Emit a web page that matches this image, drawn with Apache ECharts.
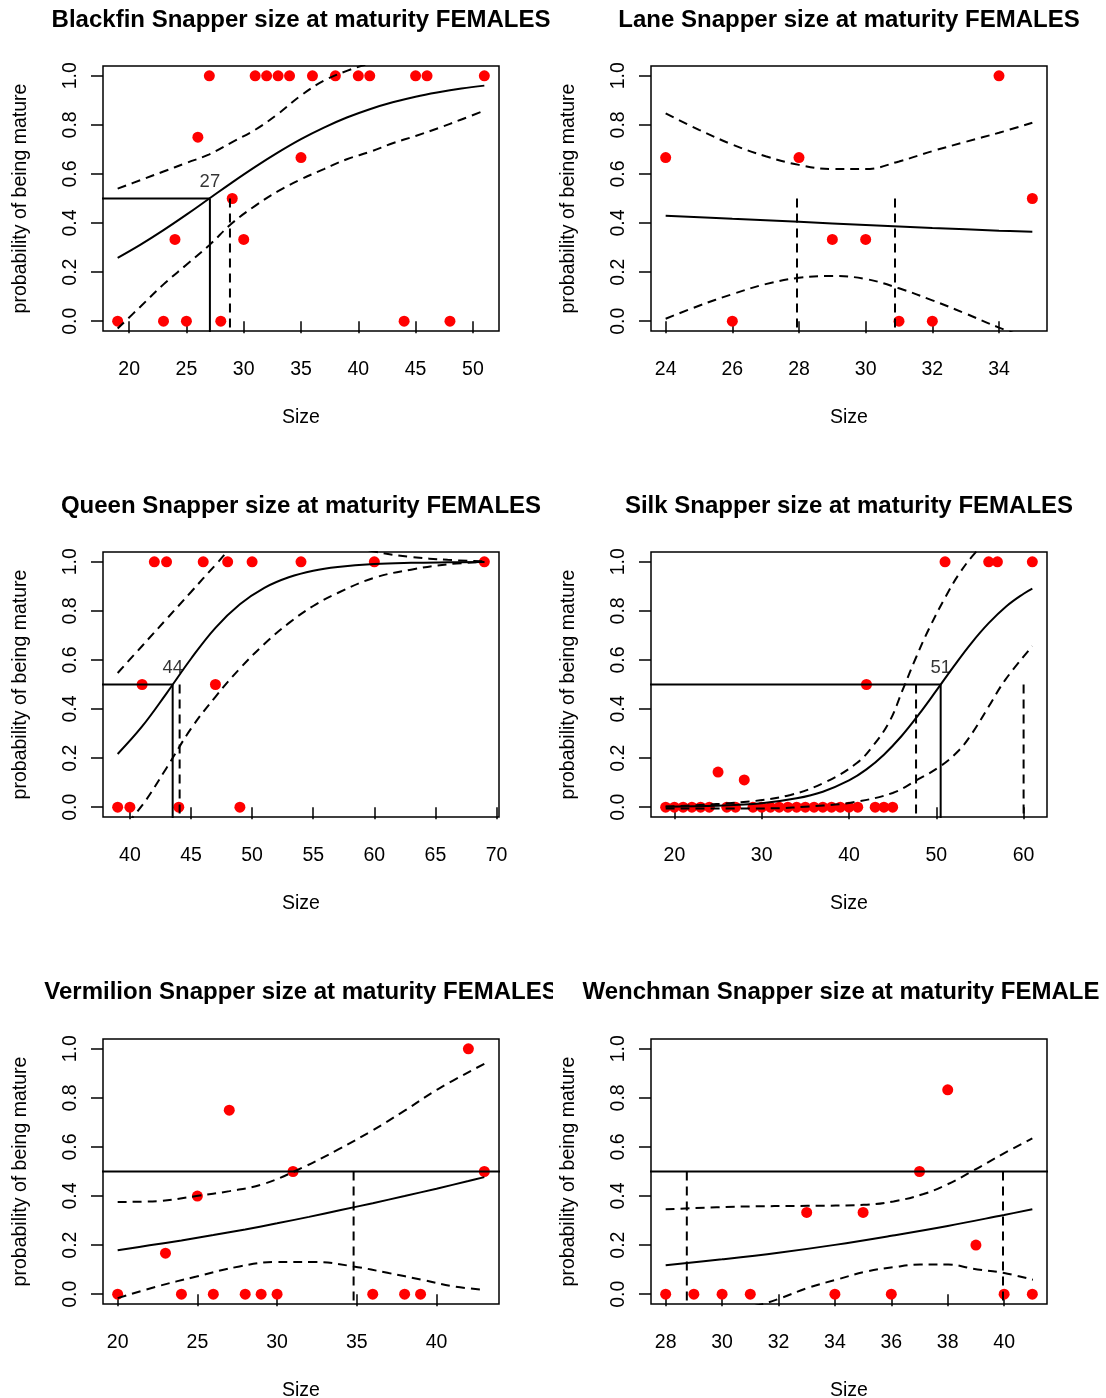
<!DOCTYPE html>
<html>
<head>
<meta charset="utf-8">
<script src="https://cdn.jsdelivr.net/npm/echarts@6/dist/echarts.min.js"></script>
<style>
  html, body { margin: 0; padding: 0; background: #fff; width: 1106px; height: 1398px; overflow: hidden; }
  .panel { position: absolute; overflow: hidden; }
</style>
</head>
<body>
<script>
// ---- Blackfin ----
const blackfinSize   = [19, 23, 24, 25, 26, 27, 28, 29, 30, 31, 32, 33, 34, 35, 36, 38, 40, 41, 44, 45, 46, 48, 51];
const blackfinMature = [0, 0, 0.333, 0, 0.75, 1, 0, 0.5, 0.333, 1, 1, 1, 1, 0.667, 1, 1, 1, 1, 0, 1, 1, 0, 1];
const blackfinFit   = [[19,0.258],[21,0.312],[23,0.371],[25,0.434],[27,0.5],[29,0.566],[31,0.629],[33,0.688],[35,0.742],[37,0.789],[39,0.83],[41,0.864],[43,0.892],[45,0.915],[47,0.933],[49,0.948],[51,0.96]];
const blackfinUpper = [[19,0.54],[21,0.575],[23,0.61],[25,0.645],[27,0.68],[29,0.73],[31,0.78],[33,0.845],[35,0.92],[37,0.98],[39,1.02],[41,1.05],[43,1.07],[45,1.08],[47,1.08],[49,1.075],[51,1.065]];
const blackfinLower = [[19,-0.03],[21,0.06],[23,0.15],[25,0.23],[27,0.31],[29,0.40],[31,0.47],[33,0.53],[35,0.578],[37,0.62],[39,0.66],[41,0.69],[43,0.725],[45,0.755],[47,0.787],[49,0.822],[51,0.858]];
const blackfinL50 = 27.05;
const blackfinCI  = [28.8];
const blackfinTicks = [20, 25, 30, 35, 40, 45, 50];

// ---- Lane ----
const laneSize   = [24, 26, 28, 29, 30, 31, 32, 34, 35];
const laneMature = [0.667, 0, 0.667, 0.333, 0.333, 0, 0, 1, 0.5];
const laneFit   = [[24,0.43],[26,0.417],[28,0.405],[30,0.392],[32,0.38],[34,0.369],[35,0.364]];
const laneUpper = [[24,0.847],[25,0.78],[26,0.72],[27,0.672],[28,0.637],[29,0.62],[30,0.62],[31,0.651],[32,0.693],[33,0.731],[34,0.768],[35,0.809]];
const laneLower = [[24,0.01],[25,0.063],[26,0.11],[27,0.151],[28,0.177],[29,0.184],[30,0.172],[31,0.134],[32,0.085],[33,0.031],[34,-0.026],[35,-0.075]];
const laneL50 = 12.8;
const laneCI  = [27.94, 30.88];
const laneTicks = [24, 26, 28, 30, 32, 34];

// ---- Queen ----
const queenSize   = [39, 40, 41, 42, 43, 44, 46, 47, 48, 49, 50, 54, 60, 69];
const queenMature = [0, 0, 0.5, 1, 1, 0, 1, 0.5, 1, 0, 1, 1, 1, 1];
const queenFit   = [[39,0.217],[41,0.329],[43,0.464],[45,0.605],[47,0.731],[49,0.827],[51,0.894],[53,0.937],[55,0.964],[57,0.979],[60,0.991],[63,0.996],[66,0.998],[69,0.999]];
const queenUpper = [[39,0.547],[41,0.657],[43,0.767],[45,0.877],[47,0.987],[49,1.09],[51,1.13],[53,1.13],[55,1.11],[57,1.08],[60,1.042],[63,1.02],[66,1.008],[69,1.002]];
const queenLower = [[39,-0.11],[41,0.007],[43,0.16],[45,0.32],[47,0.45],[49,0.565],[51,0.665],[53,0.75],[55,0.82],[57,0.873],[60,0.935],[63,0.968],[66,0.99],[69,0.999]];
const queenL50 = 43.5;
const queenCI  = [44.07];
const queenTicks = [40, 45, 50, 55, 60, 65, 70];

// ---- Silk ----
const silkSize   = [19, 20, 21, 22, 23, 24, 25, 26, 27, 28, 29, 30, 31, 32, 33, 34, 35, 36, 37, 38, 39, 40, 41, 42, 43, 44, 45, 51, 56, 57, 61];
const silkMature = [0, 0, 0, 0, 0, 0, 0.143, 0, 0, 0.111, 0, 0, 0, 0, 0, 0, 0, 0, 0, 0, 0, 0, 0, 0.5, 0, 0, 0, 1, 1, 1, 1];
const silkFit   = [[19,0.002],[25,0.006],[30,0.016],[34,0.036],[37,0.063],[40,0.109],[42,0.154],[44,0.214],[46,0.289],[48,0.378],[50,0.475],[52,0.574],[54,0.668],[56,0.75],[58,0.818],[60,0.87],[61,0.891]];
const silkUpper = [[19,0.003],[27.6,0.02],[33.3,0.05],[37.45,0.105],[40.9,0.18],[42.75,0.25],[44.65,0.35],[46.17,0.48],[47.68,0.61],[49.2,0.73],[51.1,0.86],[52.6,0.95],[54.3,1.03],[56,1.09],[58,1.12],[61,1.13]];
const silkLower = [[19,-0.005],[30,-0.005],[37.1,0.007],[40.5,0.02],[45,0.058],[47.7,0.109],[50.5,0.168],[52.6,0.232],[54.1,0.301],[56,0.41],[57.9,0.519],[61,0.656]];
const silkL50 = 50.5;
const silkCI  = [47.68, 60.0];
const silkTicks = [20, 30, 40, 50, 60];

// ---- Vermilion ----
const vermilionSize   = [20, 23, 24, 25, 26, 27, 28, 29, 30, 31, 36, 38, 39, 42, 43];
const vermilionMature = [0, 0.167, 0, 0.4, 0, 0.75, 0, 0, 0, 0.5, 0, 0, 0, 1, 0.5];
const vermilionFit   = [[20,0.179],[22,0.199],[24,0.219],[26,0.241],[28,0.264],[30,0.289],[32,0.315],[34,0.343],[36,0.371],[38,0.4],[40,0.43],[42,0.461],[43,0.477]];
const vermilionUpper = [[20,0.376],[22.45,0.379],[24.94,0.40],[27.02,0.42],[29.1,0.448],[31.6,0.516],[33.87,0.591],[35.95,0.666],[38,0.748],[40.1,0.836],[43,0.939]];
const vermilionLower = [[20,-0.016],[22.45,0.031],[24.94,0.072],[27.64,0.113],[29.93,0.131],[32.4,0.131],[34.8,0.113],[37,0.086],[39.07,0.059],[41.14,0.031],[43,0.018]];
const vermilionL50 = 44.5;
const vermilionCI  = [34.8];
const vermilionTicks = [20, 25, 30, 35, 40];

// ---- Wenchman ----
const wenchmanSize   = [28, 29, 30, 31, 33, 34, 35, 36, 37, 38, 39, 40, 41];
const wenchmanMature = [0, 0, 0, 0, 0.333, 0, 0.333, 0, 0.5, 0.833, 0.2, 0, 0];
const wenchmanFit   = [[28,0.118],[30,0.142],[32,0.169],[34,0.201],[36,0.238],[38,0.278],[40,0.323],[41,0.346]];
const wenchmanUpper = [[28,0.346],[30.67,0.357],[33.02,0.36],[35.02,0.364],[36.08,0.378],[37.14,0.408],[37.96,0.446],[38.9,0.503],[39.96,0.572],[41,0.635]];
const wenchmanLower = [[28,-0.11],[30,-0.073],[31.3,-0.044],[32.08,-0.016],[33.02,0.025],[34.05,0.059],[35.14,0.093],[36.08,0.11],[37.02,0.121],[38.02,0.121],[38.9,0.104],[40,0.086],[41.02,0.059]];
const wenchmanL50 = 47;
const wenchmanCI  = [28.75, 39.96];
const wenchmanTicks = [28, 30, 32, 34, 36, 38, 40];

const probTicks = [0, 0.2, 0.4, 0.6, 0.8, 1.0];
const halfMature = 0.5;

const panels = [
  { title: 'Blackfin Snapper size at maturity FEMALES',  size: blackfinSize,  mature: blackfinMature,  fit: blackfinFit,  upper: blackfinUpper,  lower: blackfinLower,  l50: blackfinL50,  ci: blackfinCI,  ticks: blackfinTicks },
  { title: 'Lane Snapper size at maturity FEMALES',      size: laneSize,      mature: laneMature,      fit: laneFit,      upper: laneUpper,      lower: laneLower,      l50: laneL50,      ci: laneCI,      ticks: laneTicks },
  { title: 'Queen Snapper size at maturity FEMALES',     size: queenSize,     mature: queenMature,     fit: queenFit,     upper: queenUpper,     lower: queenLower,     l50: queenL50,     ci: queenCI,     ticks: queenTicks },
  { title: 'Silk Snapper size at maturity FEMALES',      size: silkSize,      mature: silkMature,      fit: silkFit,      upper: silkUpper,      lower: silkLower,      l50: silkL50,      ci: silkCI,      ticks: silkTicks },
  { title: 'Vermilion Snapper size at maturity FEMALES', size: vermilionSize, mature: vermilionMature, fit: vermilionFit, upper: vermilionUpper, lower: vermilionLower, l50: vermilionL50, ci: vermilionCI, ticks: vermilionTicks },
  { title: 'Wenchman Snapper size at maturity FEMALES',  size: wenchmanSize,  mature: wenchmanMature,  fit: wenchmanFit,  upper: wenchmanUpper,  lower: wenchmanLower,  l50: wenchmanL50,  ci: wenchmanCI,  ticks: wenchmanTicks }
];

const FONT = '"Liberation Sans", Arial, Helvetica, sans-serif';
const DASH = [9, 6];
const rowTop = [0, 486, 973];
const rowHeight = [486, 487, 425];
const titleTop = [8, 8, 7];

function line(data, type, smooth) {
  return {
    type: 'line', data: data, symbol: 'none', showSymbol: false, clip: true,
    smooth: smooth ? 0.4 : false, z: 3, silent: true,
    lineStyle: { color: '#000', width: 2, type: type }
  };
}

function makeOption(p, row) {
  const lo = Math.min(...p.size), hi = Math.max(...p.size);
  const ext = 0.04 * (hi - lo);
  const xMin = lo - ext, xMax = hi + ext;
  const gridLeft = 103, gridWidth = 396;

  const series = [
    { type: 'scatter', data: p.size.map((s, i) => [s, p.mature[i]]), symbol: 'circle', symbolSize: 11,
      itemStyle: { color: '#ff0000', opacity: 1 }, z: 2, silent: true },
    line(p.fit, 'solid', true),
    line(p.upper, DASH, true),
    line(p.lower, DASH, true),
    // size at 50% maturity: horizontal guide and drop line
    line([[xMin - 100, halfMature], [p.l50, halfMature]], 'solid', false),
    line([[p.l50, halfMature], [p.l50, -1]], 'solid', false)
  ];
  p.ci.forEach(c => series.push(line([[c, halfMature], [c, -1]], DASH, false)));
  if (p.l50 > xMin && p.l50 < xMax) {
    series.push({
      type: 'scatter', data: [[p.l50, halfMature]], symbolSize: 0.1, z: 4, silent: true,
      itemStyle: { color: 'transparent' },
      label: { show: true, position: 'top', distance: 7, formatter: String(Math.round(p.l50)),
               fontSize: 18.5, color: '#000', fontFamily: FONT }
    });
  }

  return {
    animation: false,
    backgroundColor: 'transparent',
    title: {
      text: p.title, left: gridLeft + gridWidth / 2, top: titleTop[row], textAlign: 'center', padding: 0,
      textStyle: { fontSize: 24, fontWeight: 'bold', color: '#000', fontFamily: FONT }
    },
    grid: { left: gridLeft, top: 66, width: gridWidth, height: 265, show: true,
            borderColor: '#000', borderWidth: 1.5, backgroundColor: 'transparent',
            containLabel: false, outerBoundsMode: 'none' },
    xAxis: {
      type: 'value', min: xMin, max: xMax,
      axisLine: { show: false }, splitLine: { show: false },
      axisTick: { show: true, inside: false, length: 12, lineStyle: { color: '#000', width: 1.5 }, customValues: p.ticks },
      axisLabel: { show: true, margin: 29, fontSize: 19.5, color: '#000', fontFamily: FONT,
                   customValues: p.ticks, formatter: v => String(v) },
      name: 'Size', nameLocation: 'middle', nameGap: 77, nameMoveOverlap: false,
      nameTextStyle: { fontSize: 19.5, color: '#000', fontFamily: FONT }
    },
    yAxis: {
      type: 'value', min: -0.04, max: 1.04,
      axisLine: { show: false }, splitLine: { show: false },
      axisTick: { show: true, inside: false, length: 12, lineStyle: { color: '#000', width: 1.5 }, customValues: probTicks },
      axisLabel: { show: true, rotate: 90, margin: 22, fontSize: 19.5, color: '#000', fontFamily: FONT,
                   customValues: probTicks, formatter: v => v.toFixed(1) },
      name: 'probability of being mature', nameLocation: 'middle', nameGap: 72, nameRotate: 90, nameMoveOverlap: false,
      nameTextStyle: { fontSize: 19.5, color: '#000', fontFamily: FONT }
    },
    series: series
  };
}

panels.forEach((p, i) => {
  const row = Math.floor(i / 2), col = i % 2;
  const div = document.createElement('div');
  div.className = 'panel';
  div.style.left = (col ? 548 : 0) + 'px';
  div.style.top = rowTop[row] + 'px';
  div.style.width = (col ? 552 : 553) + 'px';
  div.style.height = rowHeight[row] + 'px';
  document.body.appendChild(div);
  const chart = echarts.init(div, null, { renderer: 'canvas' });
  chart.setOption(makeOption(p, row));
});
</script>
</body>
</html>
